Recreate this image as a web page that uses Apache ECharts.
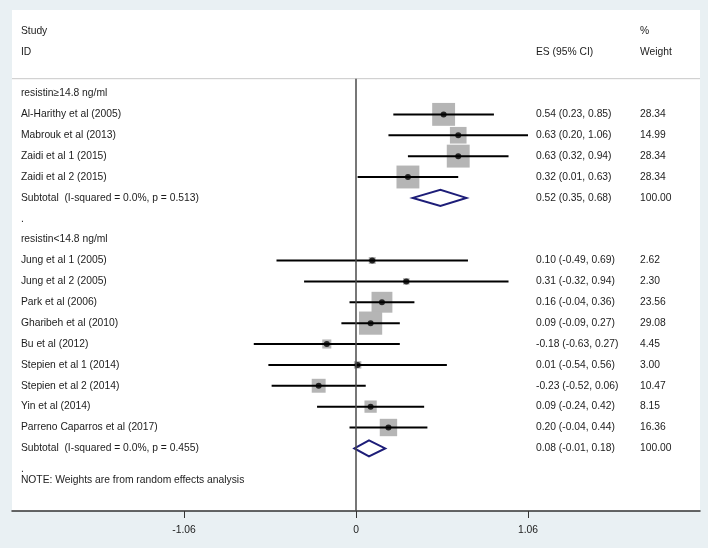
<!DOCTYPE html>
<html>
<head>
<meta charset="utf-8">
<script src="https://cdn.jsdelivr.net/npm/echarts@6/dist/echarts.min.js"></script>
<style>
html,body{margin:0;padding:0;background:#e9f0f3;}
#chart{width:708px;height:548px;}
</style>
</head>
<body>
<div id="chart"></div>
<script>
// ---- data ----
var studies = ['Al-Harithy et al (2005)', 'Mabrouk et al (2013)', 'Zaidi et al 1 (2015)', 'Zaidi et al 2 (2015)',
  'Jung et al 1 (2005)', 'Jung et al 2 (2005)', 'Park et al (2006)', 'Gharibeh et al (2010)', 'Bu et al (2012)',
  'Stepien et al 1 (2014)', 'Stepien et al 2 (2014)', 'Yin et al (2014)', 'Parreno Caparros et al (2017)'];
var studyEs = [0.54, 0.63, 0.63, 0.32, 0.10, 0.31, 0.16, 0.09, -0.18, 0.01, -0.23, 0.09, 0.20];
var studyLo = [0.23, 0.20, 0.32, 0.01, -0.49, -0.32, -0.04, -0.09, -0.63, -0.54, -0.52, -0.24, -0.04];
var studyHi = [0.85, 1.06, 0.94, 0.63, 0.69, 0.94, 0.36, 0.27, 0.27, 0.56, 0.06, 0.42, 0.44];
var studyWeight = ['28.34', '14.99', '28.34', '28.34', '2.62', '2.30', '23.56', '29.08', '4.45', '3.00', '10.47', '8.15', '16.36'];
var studyEsText = ['0.54 (0.23, 0.85)', '0.63 (0.20, 1.06)', '0.63 (0.32, 0.94)', '0.32 (0.01, 0.63)',
  '0.10 (-0.49, 0.69)', '0.31 (-0.32, 0.94)', '0.16 (-0.04, 0.36)', '0.09 (-0.09, 0.27)', '-0.18 (-0.63, 0.27)',
  '0.01 (-0.54, 0.56)', '-0.23 (-0.52, 0.06)', '0.09 (-0.24, 0.42)', '0.20 (-0.04, 0.44)'];
var studyRows = [4, 5, 6, 7, 11, 12, 13, 14, 15, 16, 17, 18, 19];

var groupNames = ['resistin\u226514.8 ng/ml', 'resistin<14.8 ng/ml'];
var groupRows = [3, 10];
var subtotalLabels = ['Subtotal  (I-squared = 0.0%, p = 0.513)', 'Subtotal  (I-squared = 0.0%, p = 0.455)'];
var subtotalEs = [0.52, 0.08];
var subtotalLo = [0.35, -0.01];
var subtotalHi = [0.68, 0.18];
var subtotalEsText = ['0.52 (0.35, 0.68)', '0.08 (-0.01, 0.18)'];
var subtotalWeight = ['100.00', '100.00'];
var subtotalRows = [8, 20];
var blankRows = [9, 21];
var noteText = 'NOTE: Weights are from random effects analysis';
var xTicks = [-1.06, 0, 1.06];
var xTickLabels = ['-1.06', '0', '1.06'];

// ---- layout constants ----
var X_MIN = -2.12, X_MAX = 2.12;
var COL_LABEL = -2.065, COL_ES = 1.109, COL_W = 1.75;
var SEP_ROW = 2.29, NOTE_ROW = 21.52;
var FONT = '10.3px "Liberation Sans", Arial, sans-serif';
var TEXT_COLOR = '#1c1c1c';

// build text table
var texts = [];
texts.push([COL_LABEL, 0, 'Study'], [COL_LABEL, 1, 'ID'], [COL_ES, 1, 'ES (95% CI)'], [COL_W, 0, '%'], [COL_W, 1, 'Weight']);
groupNames.forEach(function (g, i) { texts.push([COL_LABEL, groupRows[i], g]); });
studies.forEach(function (s, i) {
  texts.push([COL_LABEL, studyRows[i], s]);
  texts.push([COL_ES, studyRows[i], studyEsText[i]]);
  texts.push([COL_W, studyRows[i], studyWeight[i]]);
});
subtotalLabels.forEach(function (s, i) {
  texts.push([COL_LABEL, subtotalRows[i], s]);
  texts.push([COL_ES, subtotalRows[i], subtotalEsText[i]]);
  texts.push([COL_W, subtotalRows[i], subtotalWeight[i]]);
});
blankRows.forEach(function (r) { texts.push([COL_LABEL, r, '.']); });
texts.push([COL_LABEL, NOTE_ROW, noteText]);

var boxData = studies.map(function (s, i) { return [studyEs[i], studyRows[i], parseFloat(studyWeight[i])]; });
var ciData = studies.map(function (s, i) { return [studyLo[i], studyHi[i], studyRows[i]]; });
var pointData = studies.map(function (s, i) { return [studyEs[i], studyRows[i]]; });
var diamondData = subtotalEs.map(function (e, i) { return [subtotalLo[i], e, subtotalHi[i], subtotalRows[i]]; });

var chart = echarts.init(document.getElementById('chart'), null, { renderer: 'canvas' });
chart.setOption({
  backgroundColor: '#e9f0f3',
  animation: false,
  grid: { left: 12, right: 8, top: 10, bottom: 37, show: true, backgroundColor: '#ffffff', borderWidth: 0 },
  xAxis: {
    type: 'value', min: X_MIN, max: X_MAX, interval: 1.06,
    splitLine: { show: false },
    axisLine: { onZero: false, lineStyle: { color: '#333333', width: 1.5 } },
    axisTick: { customValues: xTicks, length: 7, lineStyle: { color: '#333333', width: 1 } },
    axisLabel: {
      customValues: xTicks, margin: 14, color: TEXT_COLOR, fontSize: 10.3, fontFamily: '"Liberation Sans", Arial, sans-serif',
      formatter: function (v) { var k = xTicks.indexOf(v); return k >= 0 ? xTickLabels[k] : ''; }
    }
  },
  yAxis: { type: 'value', min: -1, max: 23, inverse: true, show: false, splitLine: { show: false } },
  series: [
    { type: 'line', data: [[X_MIN, SEP_ROW], [X_MAX, SEP_ROW]], symbol: 'none', silent: true,
      lineStyle: { color: '#c9c9c9', width: 1 } },
    { type: 'line', data: [[0, SEP_ROW], [0, 23]], symbol: 'none', silent: true,
      lineStyle: { color: '#4a4a4a', width: 1.5 } },
    { type: 'custom', data: boxData, silent: true,
      renderItem: function (params, api) {
        var c = api.coord([api.value(0), api.value(1)]);
        var s = 4.3 * Math.sqrt(api.value(2));
        return { type: 'rect', shape: { x: c[0] - s / 2, y: c[1] - s / 2, width: s, height: s }, style: { fill: '#b5b5b5' } };
      } },
    { type: 'custom', data: ciData, silent: true,
      renderItem: function (params, api) {
        var a = api.coord([api.value(0), api.value(2)]);
        var b = api.coord([api.value(1), api.value(2)]);
        return { type: 'line', shape: { x1: a[0], y1: a[1], x2: b[0], y2: b[1] }, style: { stroke: '#000', lineWidth: 2 } };
      } },
    { type: 'scatter', data: pointData, symbol: 'circle', symbolSize: 6, silent: true,
      itemStyle: { color: '#000' } },
    { type: 'custom', data: diamondData, silent: true,
      renderItem: function (params, api) {
        var r = api.value(3);
        var l = api.coord([api.value(0), r]);
        var m = api.coord([api.value(1), r]);
        var h = api.coord([api.value(2), r]);
        var d = 8;
        return { type: 'polygon', shape: { points: [[l[0], l[1]], [m[0], m[1] - d], [h[0], h[1]], [m[0], m[1] + d]] },
          style: { fill: 'none', stroke: '#1d1d78', lineWidth: 2 } };
      } },
    { type: 'custom', data: texts.map(function (t) { return [t[0], t[1]]; }), silent: true,
      renderItem: function (params, api) {
        var c = api.coord([api.value(0), api.value(1)]);
        return { type: 'text', x: c[0], y: c[1],
          style: { text: texts[params.dataIndex][2], font: FONT, fill: TEXT_COLOR, align: 'left', verticalAlign: 'middle' } };
      } }
  ]
});
</script>
</body>
</html>
